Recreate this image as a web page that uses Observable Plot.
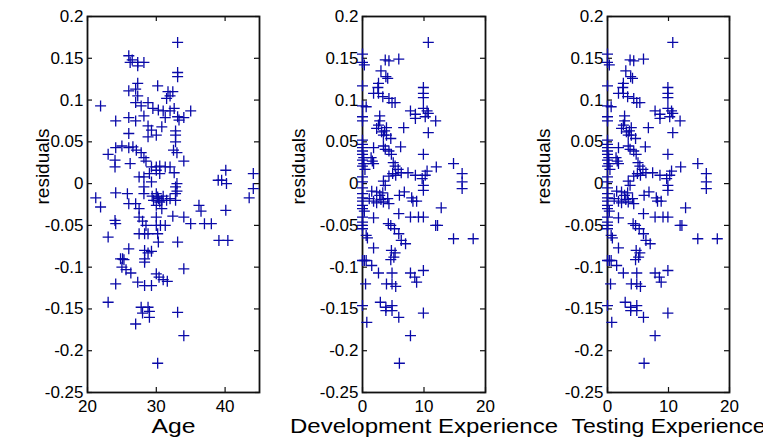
<!DOCTYPE html>
<html><head><meta charset="utf-8">
<script src="https://cdn.jsdelivr.net/npm/d3@7"></script>
<script src="https://cdn.jsdelivr.net/npm/@observablehq/plot@0.6"></script>
<style>
html,body{margin:0;padding:0;background:#fff;}
#chart{position:relative;width:763px;height:438px;overflow:hidden;background:#fff;}
#chart svg{position:absolute;left:0;top:0;}
</style></head><body><div id="chart"></div>
<script>
// ---- data ----
const yTicks = [0.2, 0.15, 0.1, 0.05, 0, -0.05, -0.1, -0.15, -0.2, -0.25];
const yTickLabels = ["0.2","0.15","0.1","0.05","0","-0.05","-0.1","-0.15","-0.2","-0.25"];
const ageTicks = [20, 30, 40];
const expTicks = [0, 10, 20];
const xTitles = ["Age", "Development Experience", "Testing Experience"];
const yTitle = "residuals";

// [Age, residual]
const agePoints = [
[33.1,0.169],
[26,0.153],[26.5,0.148],[27.3,0.145],[28.2,0.145],[26.2,0.145],[27.3,0.141],
[33.1,0.133],[33.1,0.128],
[27.3,0.12],[30.2,0.117],
[26,0.111],[27,0.113],[27.3,0.105],
[31.7,0.11],[32,0.105],[31.5,0.102],[32.4,0.11],
[21.9,0.093],
[27,0.097],[27.8,0.093],[28.8,0.097],[29.5,0.09],[30.3,0.088],[31,0.087],[32,0.087],[32.6,0.09],
[35,0.087],[34,0.079],[33.1,0.08],[33.3,0.076],
[24.1,0.075],[26,0.079],[27,0.075],[28.2,0.081],[31.3,0.079],
[26,0.06],[28.8,0.069],[29.3,0.064],[30,0.058],[28.8,0.056],[30.8,0.068],
[32.8,0.063],[32.8,0.058],[32.8,0.05],
[23,0.035],[24.1,0.043],[25,0.045],[26,0.043],[26.6,0.044],[27.1,0.04],[27.8,0.037],
[32.5,0.04],[33,0.037],
[24,0.028],[24,0.02],[26.2,0.024],
[28.2,0.031],[28.5,0.027],[29.3,0.02],[30,0.02],[30.5,0.021],[31.3,0.02],[32,0.02],
[34,0.027],
[30,0.016],[30.5,0.012],[29,0.012],
[28.2,0.008],[29.3,0.002],[27.5,0.008],
[32.6,0.013],[33,0.0],[33,-0.009],[32.8,-0.004],
[40.1,0.016],[39,0.004],[39.5,0.004],[40.2,0.0],
[44.1,0.012],[44.1,-0.006],[43.5,-0.017],
[21.2,-0.017],[21.9,-0.028],
[24.1,-0.011],[25.8,-0.012],[28.2,-0.004],[28.2,-0.012],[29.4,-0.015],[30.3,-0.018],[30.8,-0.02],[31.5,-0.02],[32,-0.018],[32.8,-0.012],[32.8,-0.02],
[30,-0.012],[29.6,-0.02],[31,-0.015],[30.5,-0.022],[30.2,-0.016],
[26,-0.024],[27,-0.024],[27.5,-0.03],
[30,-0.026],[30.8,-0.03],
[36.2,-0.026],[36.5,-0.033],[40.1,-0.032],
[24,-0.044],[24.1,-0.048],
[27.5,-0.04],[28,-0.045],[28.5,-0.05],[30,-0.04],[30,-0.05],[30.6,-0.05],[31.3,-0.05],
[32.4,-0.039],[34,-0.04],[35,-0.048],[37,-0.048],[38,-0.048],
[23,-0.064],[27.5,-0.06],[28.3,-0.06],[28.8,-0.06],[30.2,-0.06],[30.3,-0.07],
[39.1,-0.068],[40.4,-0.068],[33.1,-0.07],
[26,-0.078],[28.3,-0.08],[28.8,-0.083],[29.3,-0.081],[28.3,-0.09],[28.3,-0.094],
[24.8,-0.09],[25.1,-0.09],[25.3,-0.091],
[25,-0.1],[25.6,-0.103],[26.3,-0.107],
[24.1,-0.12],[27.3,-0.118],[28.3,-0.122],[29.3,-0.122],
[30,-0.108],[30.4,-0.112],[31,-0.115],[31.6,-0.117],[34,-0.102],
[23,-0.142],
[27.8,-0.148],[28.8,-0.148],[28,-0.155],[29,-0.153],[29,-0.16],
[33.1,-0.154],[27,-0.168],[34,-0.182],[30.2,-0.215]
];

// [Development Experience, residual]
const devPoints = [
[10.7,0.169],
[0,0.155],[0,0.145],[0.3,0.142],
[3.7,0.148],[4.3,0.147],[5.9,0.149],
[3,0.135],[3.8,0.128],[4.1,0.126],
[2.6,0.12],[2.5,0.115],[0,0.117],
[9.9,0.115],[9.9,0.108],[9.9,0.103],
[1.8,0.108],[2.6,0.108],[3.3,0.104],[4.3,0.102],[4.8,0.097],[5.3,0.097],
[0,0.093],[0.6,0.092],
[7.8,0.087],[8.6,0.083],[9.9,0.09],[10.5,0.087],[10.7,0.084],[10.2,0.08],[11.9,0.075],[8.6,0.078],
[0,0.08],[0,0.075],
[2.8,0.081],[2.8,0.075],[2.6,0.07],
[6.7,0.067],
[3.9,0.067],[3.6,0.063],[3.9,0.058],[4.6,0.054],
[2.3,0.066],[3.1,0.062],[3.4,0.058],
[10.7,0.061],
[6.2,0.044],
[0,0.052],[0,0.047],[0,0.043],[0,0.039],[0,0.035],[0.2,0.031],[0,0.028],[0.2,0.024],[0,0.021],[0.4,0.017],
[1.8,0.043],[3.4,0.045],[3.7,0.041],[4.3,0.039],[4.7,0.035],
[1.4,0.031],[1.6,0.027],[1.8,0.024],
[5,0.025],[5.3,0.021],[5.8,0.017],[6.3,0.013],
[9.9,0.035],[12,0.02],[14.8,0.024],
[16.2,0.012],[16.2,0.002],[16.2,-0.006],
[10.5,0.015],[10.2,0.01],[9.7,0.006],
[8.6,0.01],[7.4,0.013],
[4.3,0.009],[4.9,0.012],[5.4,0.01],
[3.4,0.003],[3.7,-0.002],
[9.9,-0.002],
[0,0.008],[0,0.002],[0,-0.005],
[0,-0.012],[1.5,-0.009],[2.3,-0.01],[2.8,-0.014],[3.3,-0.011],[4.1,-0.018],[6,-0.014],[6.8,-0.01],[8,-0.017],[8.2,-0.021],[8.8,-0.021],[9.9,-0.008],
[0,-0.017],[0,-0.021],[0,-0.026],[0,-0.03],[0.3,-0.033],
[1.1,-0.018],[1.8,-0.021],[2.3,-0.023],[3,-0.019],[3.4,-0.022],[4.3,-0.024],
[12.8,-0.029],
[1.8,-0.041],[5.9,-0.036],[7.8,-0.04],[9.1,-0.04],[9.9,-0.04],
[4.2,-0.048],[4.6,-0.05],[5.2,-0.054],[5.9,-0.06],[6.3,-0.068],
[11.9,-0.05],[12.2,-0.05],
[0,-0.04],[0,-0.046],[0,-0.05],[0,-0.054],
[0.6,-0.062],[0.8,-0.065],
[7,-0.072],[1.8,-0.077],
[14.8,-0.066],[18,-0.066],
[4.7,-0.08],[5.3,-0.083],[5.1,-0.088],[4.6,-0.091],
[0,-0.092],[0.3,-0.092],[0.6,-0.092],
[1.5,-0.098],[2.6,-0.107],[4.8,-0.107],[3.9,-0.12],[4.8,-0.12],[5.4,-0.123],
[7.8,-0.107],[8.5,-0.112],[8.8,-0.118],[9.9,-0.104],
[0.5,-0.12],
[0,-0.146],
[2.9,-0.142],[3.8,-0.148],[4.8,-0.146],[3.8,-0.152],[4.8,-0.152],
[5.9,-0.16],[9.9,-0.155],[0.7,-0.166],[7.8,-0.182],[6,-0.215]
];

// [Testing Experience, residual] — reads the same as the development panel
const testPoints = devPoints.map(d => [d[0], d[1]]);

// ---- drawing ----
const BLUE = "#0a0aa8";
const FONT = "'Liberation Sans', Arial, sans-serif";
const plus = {
  draw(ctx, size) {
    const r = Math.sqrt(size / Math.PI);
    ctx.moveTo(-r, 0); ctx.lineTo(r, 0);
    ctx.moveTo(0, -r); ctx.lineTo(0, r);
  }
};

const W = 763, H = 438, MT = 16, MB = 46;
const panels = [
  {pts: agePoints, domain: [20, 45], ticks: ageTicks, left: 87, right: 259, title: xTitles[0], titleLen: 44, yDx: -45},
  {pts: devPoints, domain: [0, 20], ticks: expTicks, left: 362, right: 485, title: xTitles[1], titleLen: 268, yDx: -64},
  {pts: testPoints, domain: [0, 20], ticks: expTicks, left: 607, right: 729, title: xTitles[2], titleLen: 194, yDx: -64}
];

const chart = document.getElementById("chart");
for (const p of panels) {
  const fw = p.right - p.left, fh = H - MT - MB;
  const svg = Plot.plot({
    width: W, height: H,
    marginLeft: p.left, marginRight: W - p.right, marginTop: MT, marginBottom: MB,
    style: {background: "transparent", overflow: "visible", fontFamily: FONT, fontSize: "17px", color: "black"},
    x: {domain: p.domain, label: null},
    y: {domain: [-0.25, 0.2], label: null},
    marks: [
      Plot.axisY(yTicks, {tickSize: 0, tickPadding: 4, tickFormat: d => yTickLabels[yTicks.indexOf(d)], fontSize: 17, fill: "black"}),
      Plot.axisX(p.ticks, {tickSize: 0, tickPadding: 7, tickFormat: d => String(d), fontSize: 17, fill: "black"}),
      Plot.tickY(yTicks, {y: d => d, insetRight: fw - 5, stroke: "#111", strokeWidth: 1.2}),
      Plot.tickY(yTicks, {y: d => d, insetLeft: fw - 5, stroke: "#111", strokeWidth: 1.2}),
      Plot.tickX(p.ticks, {x: d => d, insetTop: fh - 5, stroke: "#111", strokeWidth: 1.2}),
      Plot.tickX(p.ticks, {x: d => d, insetBottom: fh - 5, stroke: "#111", strokeWidth: 1.2}),
      Plot.frame({stroke: "#111", strokeWidth: 1.8}),
      Plot.dot(p.pts, {x: d => d[0], y: d => d[1], symbol: plus, r: 5.5, stroke: BLUE, fill: "none", strokeWidth: 1.3}),
      Plot.text([p.title], {text: d => d, frameAnchor: "bottom", dy: 40, fontSize: 20, fill: "black"}),
      Plot.text([yTitle], {text: d => d, frameAnchor: "left", dx: p.yDx, rotate: -90, fontSize: 19, fill: "black"})
    ]
  });
  // the reference's x titles are horizontally stretched
  const t = svg.querySelectorAll('g[aria-label="text"] text');
  if (t.length) {
    t[0].setAttribute("textLength", p.titleLen);
    t[0].setAttribute("lengthAdjust", "spacingAndGlyphs");
  }
  chart.appendChild(svg);
}
</script></body></html>
